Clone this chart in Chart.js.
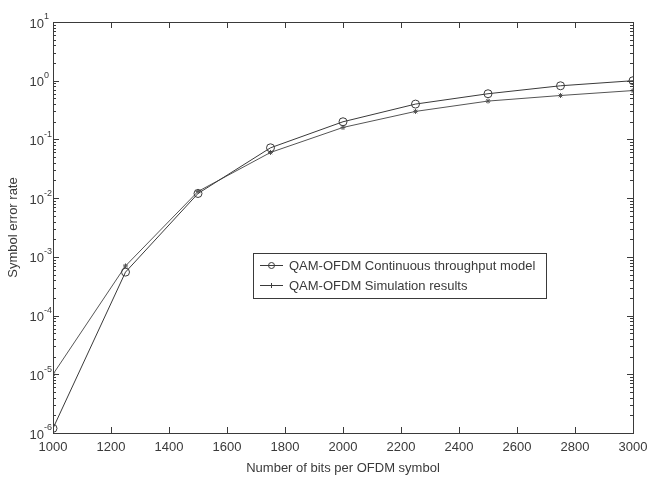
<!DOCTYPE html>
<html>
<head>
<meta charset="utf-8">
<script src="https://cdn.jsdelivr.net/npm/chart.js@4.4.0/dist/chart.umd.min.js"></script>
<style>
  html, body { margin: 0; padding: 0; background: #fff; }
  #wrap { width: 647px; height: 479px; }
</style>
</head>
<body>
<div id="wrap"><canvas id="serChart" width="647" height="479"></canvas></div>
<script>
// bits per OFDM symbol
const bits = [1000, 1250, 1500, 1750, 2000, 2250, 2500, 2750, 3000];
// symbol error rate
const modelSer = [1.2e-6, 5.5e-4, 1.2e-2, 7.2e-2, 0.2, 0.4, 0.6, 0.82, 1.0];
const simSer = [1.0e-5, 7.0e-4, 1.3e-2, 6.0e-2, 0.16, 0.3, 0.45, 0.56, 0.68];
const seriesNames = ["QAM-OFDM Continuous throughput model", "QAM-OFDM Simulation results"];
const xTicks = [1000, 1200, 1400, 1600, 1800, 2000, 2200, 2400, 2600, 2800, 3000];
const yExponents = [-6, -5, -4, -3, -2, -1, 0, 1];

const ink = "#3a3a3a";
const font = "Liberation Sans, Arial, Helvetica, sans-serif";

function toPoints(values) {
    return bits.map((b, i) => ({ x: b, y: values[i] }));
}

// MATLAB-style frame with inward ticks, superscript labels and inline legend
const matlabFrame = {
    id: "matlabFrame",
    afterDraw(chart) {
        const { ctx, chartArea } = chart;
        const xs = chart.scales.x;
        const ys = chart.scales.y;
        ctx.save();
        ctx.strokeStyle = ink;
        ctx.lineWidth = 1;
        ctx.strokeRect(chartArea.left + 0.5, chartArea.top + 0.5,
            chartArea.right - chartArea.left, chartArea.bottom - chartArea.top);

        ctx.beginPath();
        xTicks.forEach(v => {
            const px = Math.round(xs.getPixelForValue(v)) + 0.5;
            ctx.moveTo(px, chartArea.bottom);
            ctx.lineTo(px, chartArea.bottom - 6);
            ctx.moveTo(px, chartArea.top);
            ctx.lineTo(px, chartArea.top + 6);
        });
        yExponents.forEach(e => {
            for (let m = 1; m <= 9; m++) {
                const v = m * Math.pow(10, e);
                if (v > 10 + 1e-9) break;
                const py = Math.round(ys.getPixelForValue(v)) + 0.5;
                const len = m === 1 ? 6 : 3;
                ctx.moveTo(chartArea.left, py);
                ctx.lineTo(chartArea.left + len, py);
                ctx.moveTo(chartArea.right, py);
                ctx.lineTo(chartArea.right - len, py);
            }
        });
        ctx.stroke();

        // y tick labels as 10^n
        ctx.fillStyle = ink;
        ctx.textBaseline = "middle";
        yExponents.forEach(e => {
            const py = ys.getPixelForValue(Math.pow(10, e));
            ctx.font = "13px " + font;
            ctx.textAlign = "right";
            ctx.fillText("10", 44, py + 2);
            ctx.font = "9px " + font;
            ctx.textAlign = "left";
            ctx.fillText(String(e), 44, py - 5);
        });

        // legend box
        const box = { left: 253, top: 253, right: 546, bottom: 298 };
        ctx.fillStyle = "#fff";
        ctx.fillRect(box.left, box.top, box.right - box.left, box.bottom - box.top);
        ctx.strokeRect(box.left + 0.5, box.top + 0.5, box.right - box.left, box.bottom - box.top);
        chart.data.datasets.forEach((ds, i) => {
            const y = 265 + i * 20;
            ctx.beginPath();
            ctx.moveTo(260, y + 0.5);
            ctx.lineTo(283, y + 0.5);
            ctx.stroke();
            if (ds.pointStyle === "circle") {
                ctx.beginPath();
                ctx.arc(271.5, y + 0.5, 3, 0, Math.PI * 2);
                ctx.stroke();
            } else {
                ctx.beginPath();
                ctx.moveTo(271.5, y - 2);
                ctx.lineTo(271.5, y + 3);
                ctx.stroke();
            }
            ctx.fillStyle = ink;
            ctx.font = "13px " + font;
            ctx.textAlign = "left";
            ctx.textBaseline = "middle";
            ctx.fillText(ds.label, 289, y + 1);
        });
        ctx.restore();
    }
};

new Chart(document.getElementById("serChart"), {
    type: "line",
    data: {
        datasets: [
            {
                label: seriesNames[0],
                data: toPoints(modelSer),
                borderColor: ink,
                borderWidth: 1,
                pointStyle: "circle",
                pointRadius: 4,
                pointBackgroundColor: "rgba(0,0,0,0)",
                pointBorderColor: ink,
                pointBorderWidth: 1,
                tension: 0
            },
            {
                label: seriesNames[1],
                data: toPoints(simSer),
                borderColor: "#555",
                borderWidth: 1,
                pointStyle: "star",
                pointRadius: 2.5,
                pointBorderColor: "#555",
                pointBorderWidth: 1,
                tension: 0
            }
        ]
    },
    options: {
        responsive: false,
        animation: false,
        layout: { padding: { left: 6, right: 14, top: 22, bottom: 3 } },
        plugins: {
            legend: { display: false },
            tooltip: { enabled: false }
        },
        scales: {
            x: {
                type: "linear",
                min: 1000,
                max: 3000,
                afterBuildTicks: (scale) => {
                    scale.ticks = xTicks.map(v => ({ value: v }));
                },
                afterFit: (scale) => {
                    scale.height = 43;
                    scale.paddingRight = 0;
                    scale.paddingLeft = 0;
                },
                grid: { display: false, drawTicks: false },
                border: { display: false },
                ticks: {
                    color: ink,
                    padding: 7,
                    maxRotation: 0,
                    autoSkip: false,
                    callback: (v) => String(v),
                    font: { family: font, size: 13 }
                },
                title: {
                    display: true,
                    text: "Number of bits per OFDM symbol",
                    color: ink,
                    padding: { top: 2, bottom: 0 },
                    font: { family: font, size: 13 }
                }
            },
            y: {
                type: "logarithmic",
                min: 1e-6,
                max: 10,
                afterFit: (scale) => { scale.width = 47; },
                grid: { display: false, drawTicks: false },
                border: { display: false },
                ticks: { display: false },
                title: {
                    display: true,
                    text: "Symbol error rate",
                    color: ink,
                    padding: { top: 0, bottom: 0 },
                    font: { family: font, size: 13 }
                }
            }
        }
    },
    plugins: [matlabFrame]
});
</script>
</body>
</html>
